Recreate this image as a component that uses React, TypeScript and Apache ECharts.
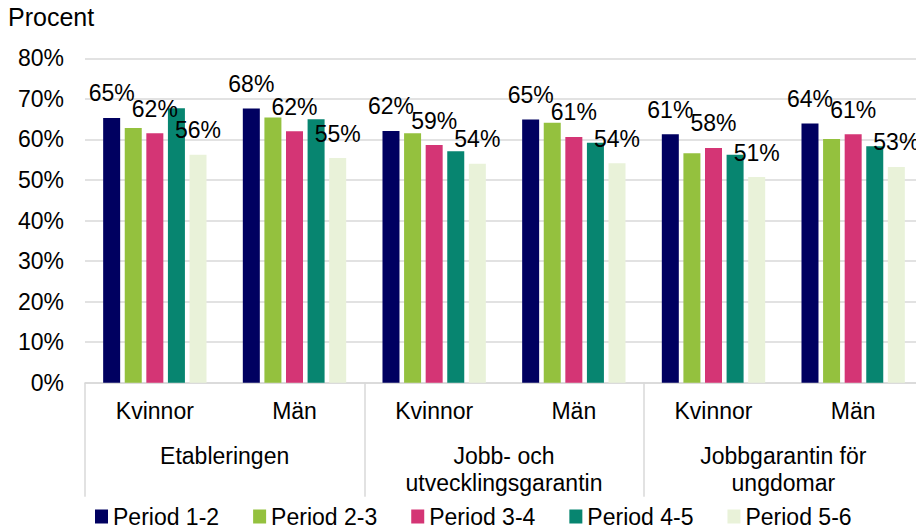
import React, { useEffect, useRef } from "react";
import * as echarts from "echarts";

const categories = ["Kvinnor", "Män", "Kvinnor", "Män", "Kvinnor", "Män"];
const groups = ["Etableringen", "Jobb- och\nutvecklingsgarantin", "Jobbgarantin för\nungdomar"];
const seriesNames = ["Period 1-2", "Period 2-3", "Period 3-4", "Period 4-5", "Period 5-6"];
const period12 = [65.3, 67.6, 62.1, 64.9, 61.3, 63.9];
const period23 = [62.8, 65.4, 61.5, 64.1, 56.6, 60.1];
const period34 = [61.5, 62.0, 58.6, 60.6, 57.9, 61.3];
const period45 = [67.7, 65.0, 57.1, 59.2, 56.2, 58.3];
const period56 = [56.2, 55.4, 54.0, 54.1, 50.7, 53.2];
const colors = ["#000060", "#94c13e", "#d43575", "#078570", "#e9f2d9"];
const showLabel = [true, false, true, false, true];

const FONT = "Liberation Sans, Arial, sans-serif";

export default function App() {
  const ref = useRef<HTMLDivElement>(null);
  useEffect(() => {
    if (!ref.current) return;
    const chart = echarts.init(ref.current, null, { renderer: "svg" });
    const data = [period12, period23, period34, period45, period56];
    chart.setOption({
      animation: false,
      textStyle: { fontFamily: FONT },
      grid: { left: 85, right: 0, top: 58.3, bottom: 148.3 },
      graphic: [
        {
          type: "text",
          left: 8,
          top: 4,
          style: { text: "Procent", font: `25px ${FONT}`, fill: "#000" },
        },
      ],
      legend: {
        left: 95,
        top: 505,
        padding: 0,
        itemWidth: 13,
        itemHeight: 14,
        itemGap: 34,
        icon: "rect",
        textStyle: { fontSize: 23, color: "#000", fontFamily: FONT },
        data: seriesNames,
      },
      xAxis: [
        {
          type: "category",
          position: "bottom",
          data: categories,
          axisLine: { show: true, lineStyle: { color: "#d9d9d9", width: 1.5 } },
          axisTick: { show: false },
          axisLabel: { margin: 17, fontSize: 23, color: "#000", fontFamily: FONT, interval: 0 },
        },
        {
          type: "category",
          position: "bottom",
          data: groups,
          axisLine: { show: false },
          axisTick: { show: true, length: 114, interval: 0, lineStyle: { color: "#d9d9d9", width: 1.5 } },
          axisLabel: { margin: 60, fontSize: 23, lineHeight: 27, color: "#000", fontFamily: FONT, interval: 0 },
        },
      ],
      yAxis: {
        type: "value",
        min: 0,
        max: 80,
        interval: 10,
        axisLine: { show: false },
        axisTick: { show: false },
        axisLabel: { formatter: "{value}%", fontSize: 23, color: "#000", margin: 21, fontFamily: FONT },
        splitLine: { lineStyle: { color: "#d9d9d9", width: 1.5 } },
      },
      series: seriesNames.map((name, i) => ({
        name,
        type: "bar",
        data: data[i],
        barWidth: 17,
        barGap: "27%",
        itemStyle: { color: colors[i] },
        label: {
          show: showLabel[i],
          position: "top",
          distance: 13,
          fontSize: 23,
          color: "#000",
          fontFamily: FONT,
          formatter: (p: any) => Math.round(p.value) + "%",
        },
      })),
    });
    return () => chart.dispose();
  }, []);
  return (
    <div
      style={{ position: "fixed", left: 0, top: 0, width: 916, height: 531, overflow: "hidden", background: "#fff" }}
    >
      <div ref={ref} style={{ width: 923, height: 531 }} />
    </div>
  );
}
